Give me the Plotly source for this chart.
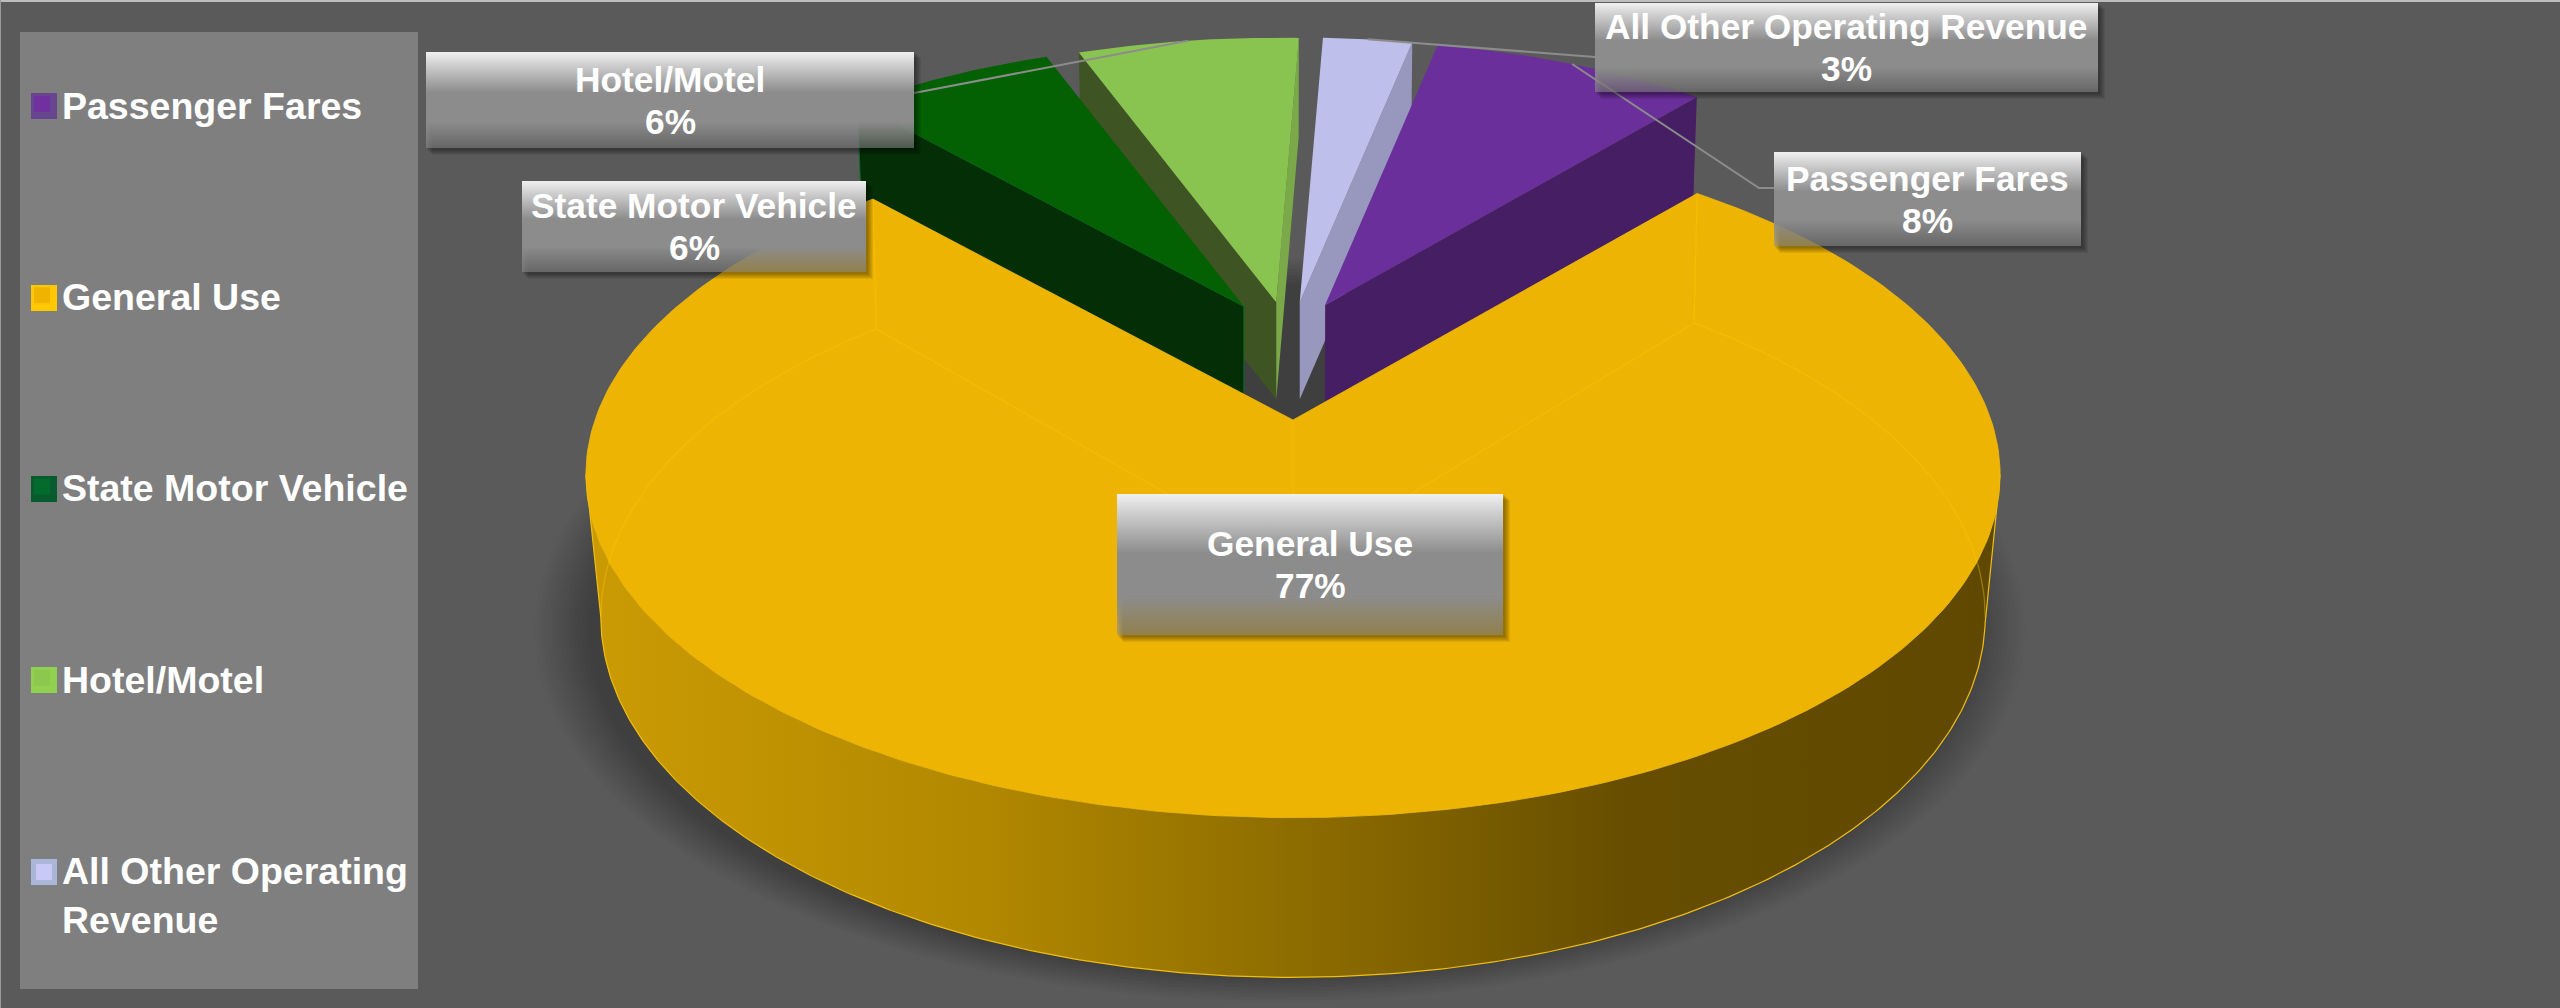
import numpy as np
import plotly.graph_objects as go

# ---------- data ----------
CATEGORIES = ["Passenger Fares", "General Use", "State Motor Vehicle", "Hotel/Motel", "All Other Operating Revenue"]
SHARES = [8, 77, 6, 6.4, 2.6]
LEGEND_NAMES = ["Passenger Fares", "General Use", "State Motor Vehicle", "Hotel/Motel", "All Other Operating<br>Revenue"]

# ---------- style ----------
FACE = ["#6B2F9B", "#EEB404", "#036003", "#8AC450", "#BFBFEC"]
WALL = ["#451E63", None, "#032E06", "#3F5423", "#9898BE"]
SWATCH = ["#7030A0", "#F0B400", "#036B2B", "#8CC84E", "#C8CAF5"]
SWATCH_EDGE = ["#66468E", "#FFC800", "#0A5A30", "#92D050", "#A9B6D8"]
SWATCH_ROWS = [106, 298, 489, 680, 872]
FIRST_ANGLE = 11.7
PULL = [73, 0, 94, 105, 55]
FONT = "Liberation Sans"
BG = "#5A5A5A"
W, H = 2560, 1008
# label boxes (x0, x1, y0, y1)
BOXES = [(1774, 2081, 152, 246), (1117, 1503, 494, 635), (522, 866, 181, 272),
         (426, 914, 52, 148), (1595, 2098, 3, 92)]
LEADER_START = [(1759, 188), None, None, (914, 93), (1595, 57)]

total = sum(SHARES)
edges = [FIRST_ANGLE]
for s in SHARES:
    edges.append(edges[-1] + 360 * s / total)
spans = [(edges[i], edges[i + 1]) for i in range(len(SHARES))]
mids = [(p + q) / 2 for p, q in spans]


def project(theta, frame):
    ax, ay, a, b, k = frame
    t = np.radians(np.asarray(theta, dtype=float))
    u, v = np.sin(t), np.cos(t)
    w = 1 + k * v
    return ax + a * u / w, ay - b * v / w


def frames(i):
    """Top and bottom perspective frame of slice i: apex x, apex y, a, b, k."""
    c = np.cos(np.radians(mids[i]))
    if c < 0:
        return (1293, 420, 698, 334, 0.16), (1293, 565, 685, 353, 0.144)
    ax = 1293 + PULL[i] * np.sin(np.radians(mids[i]))
    ay = 332 - 30 * c
    return (ax, ay, 642, 307, 0.16), (ax, ay + 97, 636, 304, 0.16)


def arc(p, q, frame, n=140):
    return project(np.linspace(p, q, n), frame)


def extremes(frame):
    """Angles at which the rim reaches its rightmost and leftmost points."""
    th = np.linspace(0, 360, 3601)
    x, _ = project(th, frame)
    return th[np.argmax(x)], th[np.argmin(x)]


fig = go.Figure()


def poly(x, y, fill, line=None, lw=0, **kw):
    fig.add_trace(go.Scatter(
        x=list(x), y=list(y), mode="lines", fill="toself",
        fillcolor=fill, line=dict(color=line or "rgba(0,0,0,0)", width=lw),
        showlegend=False, hoverinfo="skip", **kw))


def stroke(x, y, color, width):
    fig.add_trace(go.Scatter(x=list(x), y=list(y), mode="lines", showlegend=False,
                             hoverinfo="skip", line=dict(color=color, width=width)))


def wall(i, angle, color, line=None):
    top, bot = frames(i)
    xt, yt = project(angle, top)
    xb, yb = project(angle, bot)
    poly([top[0], float(xt), float(xb), bot[0], top[0]],
         [top[1], float(yt), float(yb), bot[1], top[1]], color, line, 1 if line else 0)


def face(i, line=None):
    top, _ = frames(i)
    x, y = arc(*spans[i], top)
    poly([top[0], *x, top[0]], [top[1], *y, top[1]], FACE[i], line, 1 if line else 0)


# ---------- soft shadow under the pie ----------
for f in np.linspace(1, 0, 14):
    t = np.linspace(0, 2 * np.pi, 160)
    rx, ry = 690 + 55 * f, 345 + 27 * f
    poly(1280 + rx * np.cos(t), 630 + ry * np.sin(t), "rgba(0,0,0,0.0167)")

# ---------- exploded far slices, back to front ----------
PF, GU, SM, HM, AO = range(5)
wall(HM, spans[HM][0], WALL[HM])
wall(HM, spans[HM][1], "#7BA94A")
wall(AO, spans[AO][1], WALL[AO])
wall(SM, spans[SM][0], WALL[SM], "#0A6A2A")
face(SM)
face(HM)
face(AO)
wall(PF, spans[PF][1], WALL[PF])
face(PF)

# ---------- General Use slice ----------
top, bot = frames(GU)
xt, yt = arc(*spans[GU], top, 300)
r_top, l_top = extremes(top)
r_bot, l_bot = extremes(bot)
# near side of the wall: bottom rim between its extremes, closed by the straight silhouettes
xb, yb = arc(r_bot, l_bot, bot, 300)
xn, yn = arc(r_top, l_top, top, 300)
fig.add_trace(go.Scatter(
    x=[*xb, *xn[::-1], xb[0]], y=[*yb, *yn[::-1], yb[0]],
    mode="lines", fill="toself", showlegend=False, hoverinfo="skip",
    line=dict(color="rgba(0,0,0,0)", width=0),
    fillgradient=dict(type="horizontal", colorscale=[
        [0, "#CB9B04"], [0.28, "#B28800"], [0.5, "#8E6D00"], [0.74, "#664D00"], [1, "#5F4800"]])))
stroke([xn[0], *xb, xn[-1]], [yn[0], *yb, yn[-1]], "#F2BE0C", 1.2)
poly([top[0], *xt, top[0]], [top[1], *yt, top[1]], FACE[GU], "#F3BC06", 0.8)

# back edges of the slice, seen through its translucent top
FAINT = "rgba(255,200,0,0.4)"
p, q = spans[GU]
for ang in (p, q):
    xa, ya = project(ang, top)
    xc, yc = project(ang, bot)
    stroke([float(xa), float(xc), bot[0]], [float(ya), float(yc), bot[1]], FAINT, 1.2)
stroke([top[0], bot[0]], [top[1], bot[1]], FAINT, 1.2)
for r0, r1 in ((p, r_bot), (l_bot, q)):
    xa, ya = arc(r0, r1, bot, 60)
    stroke(xa, ya, FAINT, 1.2)

# ---------- leader lines, ending on the middle of each slice's rim ----------
for i, start in enumerate(LEADER_START):
    if start is None:
        continue
    ex, ey = project(mids[i], frames(i)[0])
    xs = [start[0], float(ex)]
    ys = [start[1], float(ey)]
    if i == PF:
        xs = [BOXES[i][0], *xs]
        ys = [start[1], *ys]
    stroke(xs, ys, "#8C8C8C", 2)

# ---------- data labels ----------
annotations = []
for i, (x0, x1, y0, y1) in enumerate(BOXES):
    for off in range(1, 7):
        poly([x0 + off, x1 + off + 1, x1 + off + 1, x0 + off, x0 + off],
             [y0 + off, y0 + off, y1 + off + 1, y1 + off + 1, y0 + off], "rgba(0,0,0,0.07)")
    fig.add_trace(go.Scatter(
        x=[x0, x1, x1, x0, x0], y=[y0, y0, y1, y1, y0], mode="lines", fill="toself",
        showlegend=False, hoverinfo="skip", line=dict(color="rgba(0,0,0,0)", width=0),
        fillgradient=dict(type="vertical", start=y0, stop=y1, colorscale=[
            [0, "#F0F0F0"], [0.12, "#D2D2D2"], [0.42, "#8C8C8C"], [0.72, "#8C8C8C"],
            [1, "rgba(140,140,140,0.55)"]])))
    for text, dy in ((CATEGORIES[i], -21), (f"{round(100 * SHARES[i] / total)}%", 21)):
        annotations.append(dict(
            x=(x0 + x1) / 2, y=(y0 + y1) / 2 + dy, xref="x", yref="y", showarrow=False,
            text=text, align="center",
            font=dict(family=FONT, size=35.3, color="white", weight=700)))

# ---------- legend entries ----------
# The wrapped last entry would centre its marker between its two lines, whereas the
# swatch sits on the first line, so its marker is see-through and the swatch drawn beside it.
for i, name in enumerate(LEGEND_NAMES):
    wrapped = "<br>" in name
    fig.add_trace(go.Scatter(
        x=[None], y=[None], mode="markers", name=name, legendgroup=CATEGORIES[i],
        marker=dict(symbol="square", size=16, color="rgba(0,0,0,0)" if wrapped else SWATCH[i],
                    line=dict(width=0)),
        hoverinfo="skip"))

swatches = []
for i, row in enumerate(SWATCH_ROWS):
    swatches.append(dict(type="rect", x0=31, x1=57, y0=row - 13, y1=row + 13,
                         fillcolor=SWATCH_EDGE[i], line_width=0, layer="below"))
    if "<br>" in LEGEND_NAMES[i]:
        swatches.append(dict(type="rect", x0=36, x1=52, y0=row - 8, y1=row + 8,
                             fillcolor=SWATCH[i], line_width=0, layer="below"))

fig.update_layout(
    width=W, height=H, autosize=False,
    margin=dict(l=0, r=0, t=0, b=0, pad=0),
    paper_bgcolor=BG, plot_bgcolor=BG,
    xaxis=dict(range=[0, W], visible=False, fixedrange=True),
    yaxis=dict(range=[H, 0], visible=False, fixedrange=True),
    showlegend=True,
    legend=dict(x=25 / W, y=1 - 73 / H, xanchor="left", yanchor="top",
                bgcolor="rgba(0,0,0,0)", borderwidth=0, tracegroupgap=139.6, itemwidth=30,
                itemsizing="trace", traceorder="grouped", indentation=-3,
                font=dict(family=FONT, size=37.5, color="white", weight=700)),
    annotations=annotations,
    shapes=[
        dict(type="rect", x0=20, x1=418, y0=32, y1=989, fillcolor="#7F7F7F", line_width=0, layer="below"),
        *swatches,
        dict(type="rect", x0=0, x1=W, y0=0, y1=2, fillcolor="#BEBEBE", line_width=0, layer="above"),
        dict(type="rect", x0=0, x1=1, y0=0, y1=H, fillcolor="#9A9A9A", line_width=0, layer="above"),
    ],
)

fig.write_html("out.html", config=dict(displayModeBar=False),
               post_script="document.body.style.margin='0';document.body.style.overflow='hidden';")
